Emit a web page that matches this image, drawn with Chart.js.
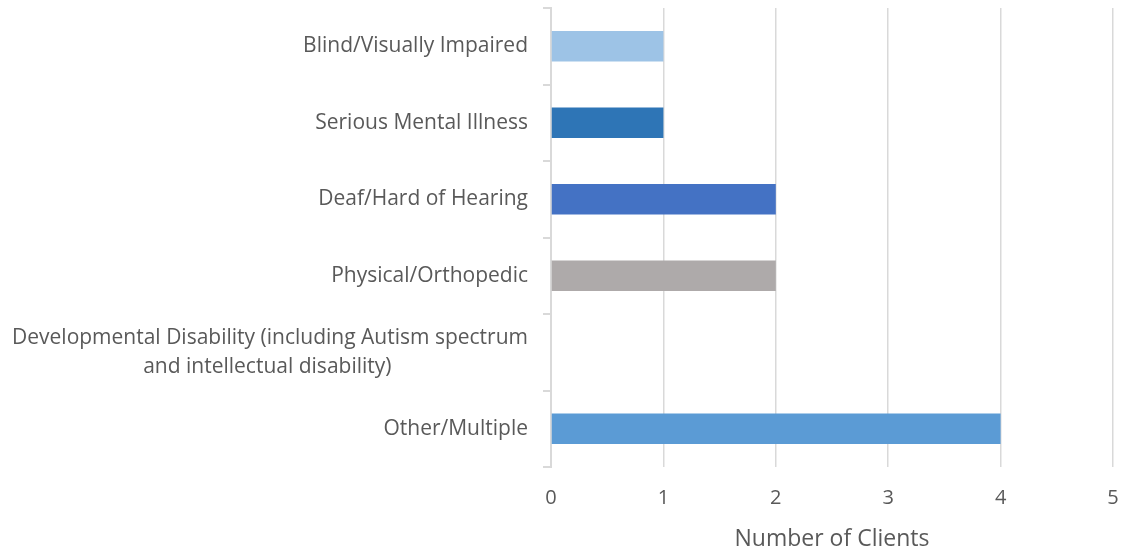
<!DOCTYPE html>
<html>
<head>
<meta charset="utf-8">
<script src="https://cdn.jsdelivr.net/npm/chart.js@4"></script>
<style>
  body { margin: 0; background: #ffffff; }
</style>
</head>
<body>
<canvas id="myChart" width="1126" height="556"></canvas>
<script>
// categories top to bottom
const categories = [
  'Blind/Visually Impaired',
  'Serious Mental Illness',
  'Deaf/Hard of Hearing',
  'Physical/Orthopedic',
  ['Developmental Disability (including Autism spectrum', 'and intellectual disability)\u2003\u2003\u2003\u2003\u2003\u2003\u2002'],
  'Other/Multiple'
];
const clients = [1, 1, 2, 2, 0, 4];
const barColors = ['#9DC3E6', '#2E75B6', '#4472C4', '#AEAAAA', '#264478', '#5B9BD5'];
const xTicks = [0, 1, 2, 3, 4, 5];

const textColor = '#595959';
const lineColor = '#D9D9D9';

// keep chart.js from adding label padding around the plot area
function noPadding(scale) {
  scale.paddingTop = 0;
  scale.paddingBottom = 0;
  scale.paddingLeft = 0;
  scale.paddingRight = 0;
}

const config = {
  type: 'bar',
  data: {
    labels: categories,
    datasets: [{
      data: clients,
      backgroundColor: barColors,
      barPercentage: 0.4,
      categoryPercentage: 1
    }]
  },
  options: {
    indexAxis: 'y',
    responsive: false,
    animation: false,
    layout: { padding: { top: 8, right: 13, left: 0, bottom: 0 } },
    plugins: {
      legend: { display: false },
      tooltip: { enabled: false }
    },
    scales: {
      x: {
        min: xTicks[0],
        max: xTicks[xTicks.length - 1],
        afterFit: (scale) => { scale.height = 89; noPadding(scale); },
        afterBuildTicks: (scale) => { scale.ticks = xTicks.map(v => ({ value: v })); },
        ticks: {
          color: textColor,
          font: { family: 'Open Sans', size: 20 },
          padding: 19
        },
        grid: { color: lineColor, lineWidth: 1.5, drawTicks: false },
        border: { display: false },
        title: {
          display: true,
          text: 'Number of Clients',
          color: textColor,
          font: { family: 'Open Sans', size: 23 },
          padding: { top: 0, bottom: 3 }
        }
      },
      y: {
        afterFit: (scale) => { scale.width = 551; noPadding(scale); },
        ticks: {
          color: textColor,
          font: { family: 'Open Sans', size: 21, lineHeight: 1.4 },
          padding: 15,
          crossAlign: 'near'
        },
        grid: { color: lineColor, lineWidth: 2, drawOnChartArea: false, tickLength: 8 },
        border: { display: true, color: lineColor, width: 2 }
      }
    }
  }
};

const ctx = document.getElementById('myChart').getContext('2d');
const myChart = new Chart(ctx, config);
</script>
</body>
</html>
